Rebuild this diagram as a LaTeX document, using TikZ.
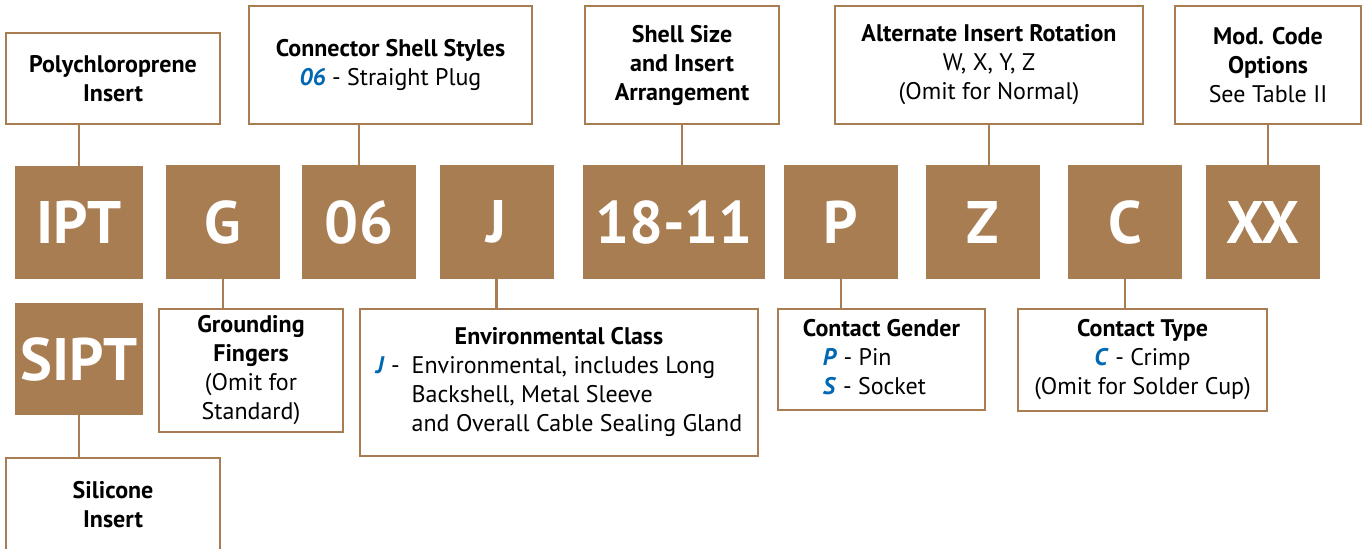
\documentclass[tikz,border=0pt]{standalone}
\usepackage{fontspec}
\setmainfont{PT Sans}
\usepackage{tikz}

\definecolor{codebrown}{RGB}{169,125,82}
\definecolor{codeblue}{RGB}{0,103,178}
\newcommand{\opt}[1]{\textcolor{codeblue}{\textbf{\textit{#1}}}}

\begin{document}
\begin{tikzpicture}[
  x=0.5pt, y=-0.5pt,
  code/.style={fill=codebrown, text=white, inner sep=0pt, minimum width=57pt, minimum height=57pt,
    font=\bfseries\fontsize{30}{30}\selectfont},
  note/.style={draw=codebrown, line width=1.3pt, fill=white, align=center, inner sep=0pt,
    font=\fontsize{12}{14.5}\selectfont},
  link/.style={draw=codebrown, line width=1.2pt}
]
\useasboundingbox (0,0) rectangle (1362,548);

% Code parts
\node[code, minimum width=64pt, minimum height=56.5pt] (ipt) at (79,222.5) {IPT};
\node[code] (g) at (223,222) {G};
\node[code] (s06) at (359,222) {06};
\node[code] (j) at (496.5,222) {J};
\node[code, minimum width=91pt] (n1811) at (674,222) {18-11};
\node[code] (p) at (841,222) {P};
\node[code] (z) at (983,222) {Z};
\node[code] (c) at (1125,222) {C};
\node[code] (xx) at (1263,222) {XX};
\node[code, minimum width=64pt, minimum height=56pt] (sipt) at (79,359) {SIPT};

% Notes above
\node[note, minimum width=107pt, minimum height=45.5pt] (poly) at (113,78.5)
  {\textbf{Polychloroprene}\\\textbf{Insert}};
\node[note, minimum width=141.5pt, minimum height=59pt] (shell) at (390.5,65)
  {\textbf{Connector Shell Styles}\\\opt{06} - Straight Plug};
\node[note, minimum width=97pt, minimum height=59pt] (size) at (682,65)
  {\textbf{Shell Size}\\\textbf{and Insert}\\\textbf{Arrangement}};
\node[note, minimum width=154pt, minimum height=59pt] (rot) at (989,65)
  {\textbf{Alternate Insert Rotation}\\W, X, Y, Z\\(Omit for Normal)};
\node[note, minimum width=93pt, minimum height=59pt] (mod) at (1268,65)
  {\textbf{Mod. Code}\\\textbf{Options}\\See Table II};

% Notes below
\node[note, minimum width=92pt, minimum height=61.5pt] (ground) at (251,370.5)
  {\textbf{Grounding}\\\textbf{Fingers}\\(Omit for\\Standard)};
\node[note, minimum width=199pt, minimum height=73.5pt] (env) at (559,382.5)
  {\begin{tabular}{@{}l@{\hspace{6pt}}l@{}}
   \multicolumn{2}{@{}c@{}}{\textbf{Environmental Class}}\\
   \opt{J} - & Environmental, includes Long\\
   & Backshell, Metal Sleeve\\
   & and Overall Cable Sealing Gland
   \end{tabular}};
\node[note, minimum width=103.5pt, minimum height=50.5pt] (gender) at (881.5,359.5)
  {\begin{tabular}{@{}l@{}}
   \multicolumn{1}{@{}c@{}}{\textbf{Contact Gender}}\\
   \hspace*{10pt}\opt{P} - Pin\\
   \hspace*{10pt}\opt{S} - Socket
   \end{tabular}};
\node[note, minimum width=124.5pt, minimum height=51pt] (type) at (1142.5,360)
  {\textbf{Contact Type}\\\opt{C} - Crimp\\(Omit for Solder Cup)};
\node[note, minimum width=107pt, minimum height=47pt] (silicone) at (113,505)
  {\textbf{Silicone}\\\textbf{Insert}};

% Links
\draw[link] (poly.south -| ipt.north) -- (ipt.north);
\draw[link] (shell.south -| s06.north) -- (s06.north);
\draw[link] (size.south) -- (size.south |- n1811.north);
\draw[link] (rot.south) -- (rot.south |- z.north);
\draw[link] (mod.south) -- (mod.south |- xx.north);
\draw[link] (g.south) -- (g.south |- ground.north);
\draw[link] (j.south) -- (j.south |- env.north);
\draw[link] (p.south) -- (p.south |- gender.north);
\draw[link] (c.south) -- (c.south |- type.north);
\draw[link] (sipt.south) -- (sipt.south |- silicone.north);
\end{tikzpicture}
\end{document}
